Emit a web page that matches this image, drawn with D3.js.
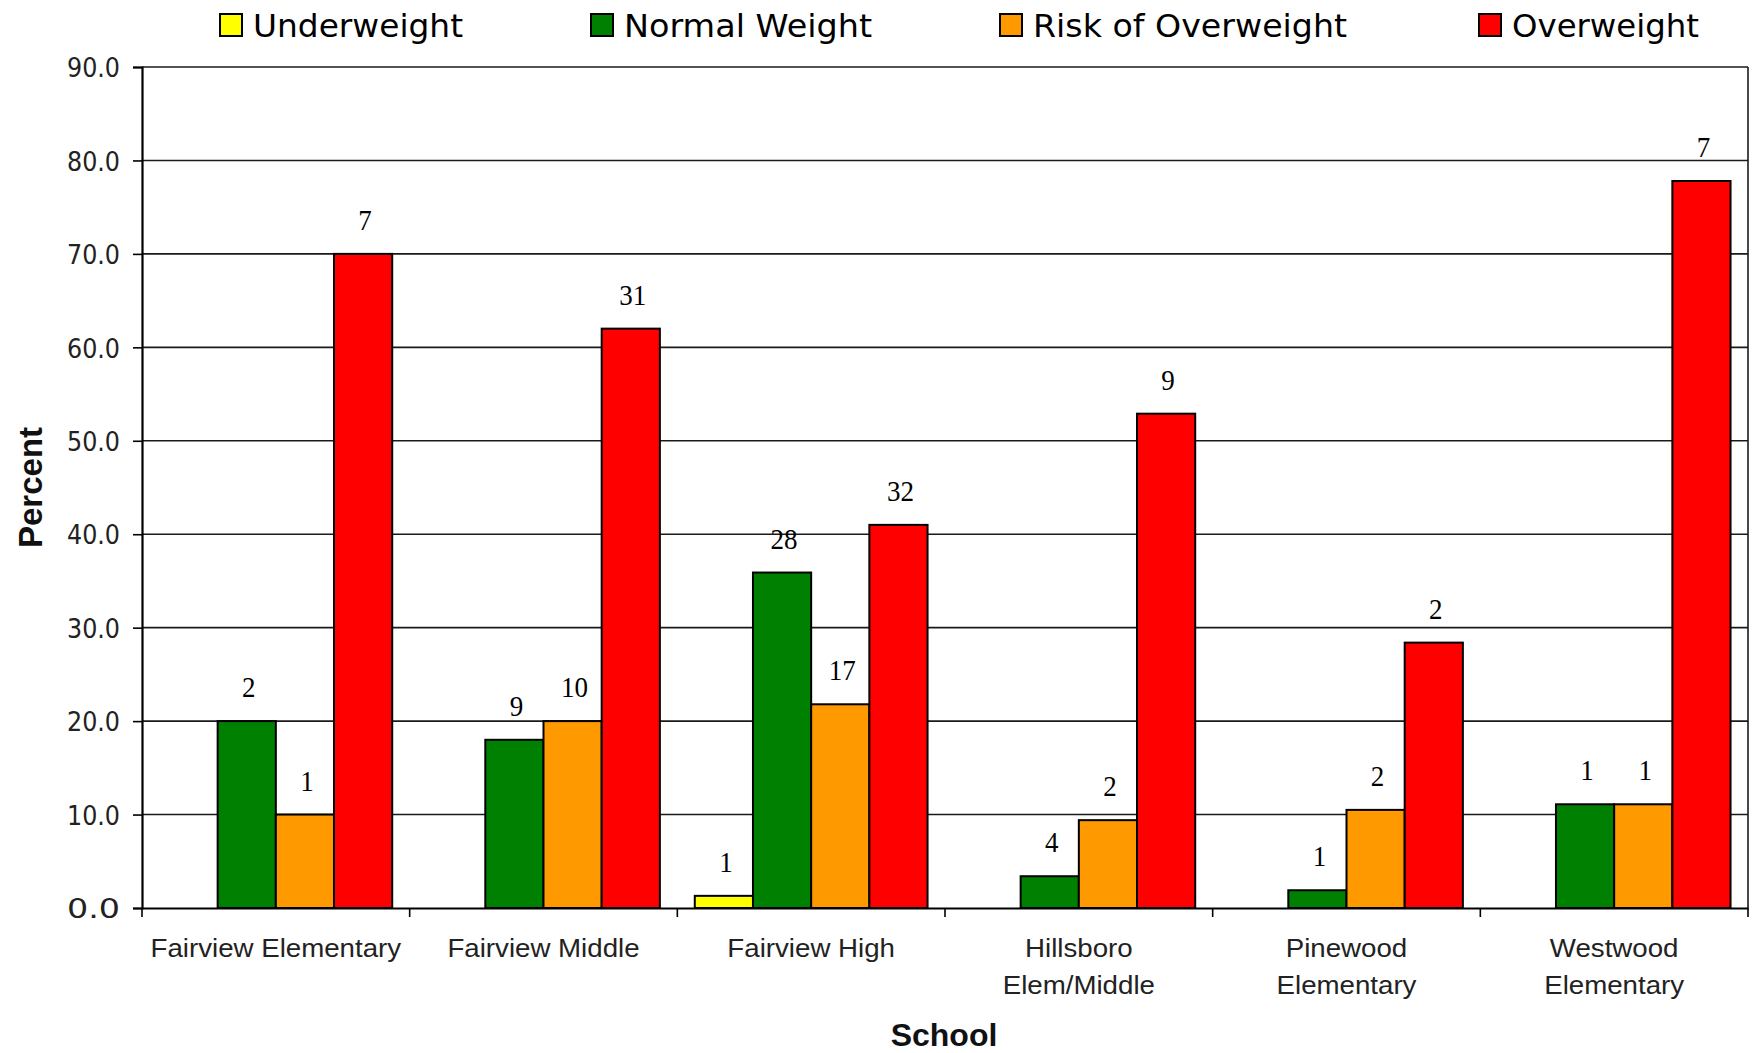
<!DOCTYPE html>
<html>
<head>
<meta charset="utf-8">
<script src="https://cdn.jsdelivr.net/npm/d3@7"></script>
<style>
html,body{margin:0;padding:0;background:#fff;}
svg{display:block;}
</style>
</head>
<body>
<svg id="chart" width="1754" height="1053"></svg>
<script>
// ---- data ----
const schools = ["Fairview Elementary", "Fairview Middle", "Fairview High", "Hillsboro Elem/Middle", "Pinewood Elementary", "Westwood Elementary"];
const schoolLines = [["Fairview Elementary"], ["Fairview Middle"], ["Fairview High"], ["Hillsboro", "Elem/Middle"], ["Pinewood", "Elementary"], ["Westwood", "Elementary"]];
const seriesNames = ["Underweight", "Normal Weight", "Risk of Overweight", "Overweight"];
const seriesColors = ["#FFFF00", "#008000", "#FF9900", "#FF0000"];
const underweightPct = [0, 0, 1.3, 0, 0, 0];
const normalPct = [20.0, 18.0, 35.9, 3.4, 1.9, 11.1];
const riskPct = [10.0, 20.0, 21.8, 9.4, 10.5, 11.1];
const overweightPct = [70.0, 62.0, 41.0, 52.9, 28.4, 77.8];
const underweightN = [null, null, 1, null, null, null];
const normalN = [2, 9, 28, 4, 1, 1];
const riskN = [1, 10, 17, 2, 2, 1];
const overweightN = [7, 31, 32, 9, 2, 7];
const yTicks = [0, 10, 20, 30, 40, 50, 60, 70, 80, 90];

const pctSeries = [underweightPct, normalPct, riskPct, overweightPct];
const nSeries = [underweightN, normalN, riskN, overweightN];

// ---- layout ----
const svg = d3.select("#chart");
const L = 142, R = 1748, T = 67, B = 908;

const x0 = d3.scaleBand().domain(schools).range([L, R]).paddingInner(0).paddingOuter(0);
const x1 = d3.scaleBand().domain(seriesNames).range([0, x0.bandwidth()]).paddingInner(0).paddingOuter(0.3);
const y = d3.scaleLinear().domain([0, 90]).range([B, T]);

// gridlines
svg.append("g").selectAll("line").data(yTicks.filter(d => d > 0)).join("line")
  .attr("x1", L).attr("x2", R)
  .attr("y1", d => y(d)).attr("y2", d => y(d))
  .attr("stroke", "#1a1a1a").attr("stroke-width", 1.6);
// right border
svg.append("line").attr("x1", R).attr("x2", R).attr("y1", T).attr("y2", B)
  .attr("stroke", "#1a1a1a").attr("stroke-width", 1.6);

// bars
const rows = [];
schools.forEach((s, i) => {
  seriesNames.forEach((n, j) => {
    rows.push({school: s, series: n, j, v: pctSeries[j][i], n: nSeries[j][i]});
  });
});
svg.append("g").selectAll("rect").data(rows.filter(d => d.v > 0)).join("rect")
  .attr("x", d => x0(d.school) + x1(d.series))
  .attr("y", d => y(d.v))
  .attr("width", x1.bandwidth())
  .attr("height", d => y(0) - y(d.v))
  .attr("fill", d => seriesColors[d.j])
  .attr("stroke", "#000").attr("stroke-width", 2);

// data labels
svg.append("g").selectAll("text").data(rows.filter(d => d.n != null)).join("text")
  .attr("x", d => x0(d.school) + x1(d.series) + x1.bandwidth() / 2 + 2)
  .attr("y", d => y(d.v) - 24)
  .attr("text-anchor", "middle")
  .attr("font-family", "'Liberation Serif', 'Times New Roman', serif")
  .attr("font-size", 30)
  .attr("fill", "#000")
  .attr("textLength", d => String(d.n).length * 13.5)
  .attr("lengthAdjust", "spacingAndGlyphs")
  .text(d => d.n);

// y axis
const yAxis = d3.axisLeft(y).tickValues(yTicks).tickFormat(d3.format(".1f")).tickSize(9).tickPadding(13);
const gy = svg.append("g").attr("transform", `translate(${L},0)`).call(yAxis);
gy.select(".domain").attr("stroke", "#000").attr("stroke-width", 2.2);
gy.selectAll(".tick line").attr("stroke", "#000").attr("stroke-width", 1.6);
gy.selectAll(".tick text")
  .attr("font-family", "'DejaVu Sans', Verdana, sans-serif")
  .attr("font-size", 27)
  .attr("fill", "#222")
  .attr("dy", "0.36em")
  .attr("textLength", 53)
  .attr("lengthAdjust", "spacingAndGlyphs");

// x axis
const xAxis = d3.axisBottom(x0).tickSize(0).tickFormat("");
const gx = svg.append("g").attr("transform", `translate(0,${B})`).call(xAxis);
gx.select(".domain").attr("stroke", "#000").attr("stroke-width", 2);
svg.append("g").selectAll("line").data(schools.concat(["__end"])).join("line")
  .attr("x1", (d, i) => i < schools.length ? x0(d) : R)
  .attr("x2", (d, i) => i < schools.length ? x0(d) : R)
  .attr("y1", B).attr("y2", B + 9)
  .attr("stroke", "#000").attr("stroke-width", 1.6);

const xl = svg.append("g");
schools.forEach((s, i) => {
  schoolLines[i].forEach((line, k) => {
    const t = xl.append("text")
      .attr("x", x0(s) + x0.bandwidth() / 2)
      .attr("y", 957 + k * 36.5)
      .attr("text-anchor", "middle")
      .attr("font-family", "'Liberation Sans', Arial, sans-serif")
      .attr("font-size", 26)
      .attr("fill", "#222")
      .text(line);
    const w = t.node().getComputedTextLength();
    t.attr("textLength", w * 1.064).attr("lengthAdjust", "spacingAndGlyphs");
  });
});

// axis titles
svg.append("text")
  .attr("x", 944).attr("y", 1046)
  .attr("text-anchor", "middle")
  .attr("font-family", "'Liberation Sans', Arial, sans-serif")
  .attr("font-weight", "bold").attr("font-size", 32)
  .attr("fill", "#111")
  .text("School");
svg.append("text")
  .attr("transform", `translate(42,${(T + B) / 2}) rotate(-90)`)
  .attr("text-anchor", "middle")
  .attr("font-family", "'Liberation Sans', Arial, sans-serif")
  .attr("font-weight", "bold").attr("font-size", 33)
  .attr("fill", "#111")
  .text("Percent");

// legend
const legendX = [220, 591, 1000, 1479];
const legendW = [210, 248, 314, 187];
const lg = svg.append("g");
seriesNames.forEach((n, j) => {
  lg.append("rect")
    .attr("x", legendX[j]).attr("y", 14)
    .attr("width", 22).attr("height", 22)
    .attr("fill", seriesColors[j])
    .attr("stroke", "#000").attr("stroke-width", 2);
  lg.append("text")
    .attr("x", legendX[j] + 33).attr("y", 36.5)
    .attr("font-family", "'DejaVu Sans', Verdana, sans-serif")
    .attr("font-size", 32)
    .attr("fill", "#000")
    .attr("textLength", legendW[j])
    .attr("lengthAdjust", "spacingAndGlyphs")
    .text(n);
});
</script>
</body>
</html>
